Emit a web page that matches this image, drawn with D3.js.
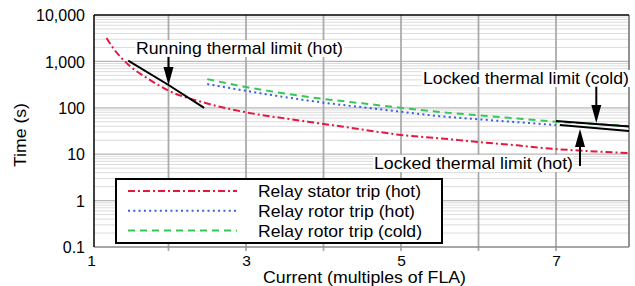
<!DOCTYPE html>
<html><head><meta charset="utf-8">
<script src="https://cdn.jsdelivr.net/npm/d3@7"></script>
<style>html,body{margin:0;padding:0;background:#fff}svg{display:block}text{font-family:"Liberation Sans",Arial,sans-serif;fill:#000}</style>
</head><body>
<svg id="c" width="635" height="286"></svg>
<script>
// ---- data ----
const statorX = [1.2,1.3,1.4,1.5,1.75,2,2.5,3,3.5,4,4.5,5,5.5,6,6.5,7,7.5,7.95];
const statorT = [3190,1800,1150,800,410,235,124,80,59,45,34,26,22,18.3,15.5,12.9,11.5,10.5];
const rotorHotX = [2.5,3,3.5,4,4.5,5,5.5,6,6.5,7];
const rotorHotT = [325,232,170,129,103,82,66,56.5,49,42.5];
const rotorColdX = [2.5,3,3.5,4,4.5,5,5.5,6,6.5,7,7.5,7.95];
const rotorColdT = [415,280,204,155,125,100,81,69,59,50,45,40.5];
const runLimitX = [1.48,2,2.46];
const runLimitT = [1040,310,100];
const lockColdX = [7.0,7.95];
const lockColdT = [52,39.5];
const lockHotX = [7.05,7.95];
const lockHotT = [42.6,31.5];
const xTicks = [1,3,5,7];
const xGrid = [2,3,4,5,6,7];
const yTicks = [0.1,1,10,100,1000,10000];
const yTickLabels = ["0.1","1","10","100","1,000","10,000"];
const legendLabels = ["Relay stator trip (hot)","Relay rotor trip (hot)","Relay rotor trip (cold)"];
const xTitle = "Current (multiples of FLA)";
const yTitle = "Time (s)";
const annRunning = {text:"Running thermal limit (hot)", ax:2, from:1250, to:310};
const annCold = {text:"Locked thermal limit (cold)", ax:7.52, from:285, to:47};
const annHot = {text:"Locked thermal limit (hot)", ax:7.31, from:5.57, to:34.9};

// ---- layout ----
const L=94, R=629, T=15, B=247;
const svg = d3.select("#c");
const x = d3.scaleLinear().domain([1,7]).range([91,556]);
const xMin = x.invert(L), xMax = x.invert(R);
x.domain([xMin,xMax]).range([L,R]);
const y = d3.scaleLog().domain([0.1,10000]).range([B,T]);

svg.append("defs").append("clipPath").attr("id","pc").append("rect")
  .attr("x",L).attr("y",T).attr("width",R-L).attr("height",B-T);

// minor horizontal grid
const minor=[];
for(let d=0.1; d<10000; d*=10){ for(let k=2;k<=9;k++) minor.push(d*k); }
svg.append("g").selectAll("line").data(minor).join("line")
  .attr("x1",L).attr("x2",R).attr("y1",d=>y(d)).attr("y2",d=>y(d))
  .attr("stroke","#dcdcdc").attr("stroke-width",1);
svg.append("g").selectAll("line").data(yTicks.slice(1,-1)).join("line")
  .attr("x1",L).attr("x2",R).attr("y1",d=>y(d)).attr("y2",d=>y(d))
  .attr("stroke","#b8b8b8").attr("stroke-width",1.2);
svg.append("g").selectAll("line").data(xGrid).join("line")
  .attr("x1",d=>x(d)).attr("x2",d=>x(d)).attr("y1",T).attr("y2",B+4)
  .attr("stroke","#ababab").attr("stroke-width",1.8);

// frame
svg.append("line").attr("x1",R).attr("x2",R).attr("y1",T).attr("y2",B).attr("stroke","#6e6e6e").attr("stroke-width",1.5);
svg.append("line").attr("x1",L).attr("x2",R).attr("y1",B).attr("y2",B).attr("stroke","#8a8a8a").attr("stroke-width",1.5);
svg.append("line").attr("x1",L).attr("x2",R).attr("y1",T).attr("y2",T).attr("stroke","#000").attr("stroke-width",1.5);
svg.append("line").attr("x1",L).attr("x2",L).attr("y1",T).attr("y2",B).attr("stroke","#000").attr("stroke-width",1.5);

// axes labels
const xa = d3.axisBottom(x).tickValues(xTicks).tickSize(0).tickFormat(d3.format("d"));
const gx = svg.append("g").attr("transform",`translate(0,${B})`).call(xa);
gx.select(".domain").remove();
gx.selectAll("text").attr("dy",null).attr("y",18.5).style("font-size","15.5px").style("font-family",'"Liberation Sans",Arial,sans-serif');
const ya = d3.axisLeft(y).tickValues(yTicks).tickSize(0).tickFormat((d,i)=>yTickLabels[i]);
const gy = svg.append("g").attr("transform",`translate(${L},0)`).call(ya);
gy.select(".domain").remove();
gy.selectAll("text").attr("x",-9).attr("dy","0.36em").style("font-size","16px").style("font-family",'"Liberation Sans",Arial,sans-serif');

svg.append("text").attr("x",263).attr("y",283).attr("textLength",203).attr("lengthAdjust","spacingAndGlyphs")
  .style("font-size","16.5px").text(xTitle);
svg.append("text").attr("transform","translate(26,167) rotate(-90)").attr("textLength",64).attr("lengthAdjust","spacingAndGlyphs")
  .style("font-size","17px").text(yTitle);

// curves
const pc = svg.append("g").attr("clip-path","url(#pc)");
const line = d3.line().x(d=>x(d[0])).y(d=>y(d[1])).curve(d3.curveMonotoneX);
const zip=(a,b)=>a.map((v,i)=>[v,b[i]]);
const series = [
  {x:statorX,t:statorT,color:"#e5173f",dash:"7,3,2,3"},
  {x:rotorHotX,t:rotorHotT,color:"#3a5ee0",dash:"2,3.3"},
  {x:rotorColdX,t:rotorColdT,color:"#35c858",dash:"7,5"}
];
series.forEach(s=>{
  pc.append("path").attr("d",line(zip(s.x,s.t))).attr("fill","none")
    .attr("stroke",s.color).attr("stroke-width",2).attr("stroke-dasharray",s.dash);
});
const straight = d3.line().x(d=>x(d[0])).y(d=>y(d[1]));
[[runLimitX,runLimitT],[lockColdX,lockColdT],[lockHotX,lockHotT]].forEach(([a,b])=>{
  pc.append("path").attr("d",straight(zip(a,b))).attr("fill","none").attr("stroke","#000").attr("stroke-width",2);
});

// annotation labels with white backgrounds
function label(txt,lx,by,w){
  const g=svg.append("g");
  const t=g.append("text").attr("x",lx).attr("y",by).attr("textLength",w).attr("lengthAdjust","spacingAndGlyphs")
    .style("font-size","17px").text(txt);
  const bb=t.node().getBBox();
  g.insert("rect","text").attr("x",bb.x-1).attr("y",bb.y+1).attr("width",w+2).attr("height",bb.height-2).attr("fill","#fff");
}
label(annRunning.text,136,54,207);
label(annCold.text,423,84,206);
label(annHot.text,374,169,199);

function arrow(a){
  const ax=x(a.ax), y0=y(a.from), y1=y(a.to);
  const dir = y1>y0?1:-1, hl=18, hw=5;
  svg.append("line").attr("x1",ax).attr("x2",ax).attr("y1",y0).attr("y2",y1-dir*hl).attr("stroke","#000").attr("stroke-width",2);
  svg.append("path").attr("d",`M${ax},${y1}L${ax-hw},${y1-dir*hl}L${ax+hw},${y1-dir*hl}Z`).attr("fill","#000");
}
[annRunning,annCold,annHot].forEach(arrow);

// legend
const lg=svg.append("g");
lg.append("rect").attr("x",116).attr("y",179).attr("width",326).attr("height",64).attr("fill","#fff").attr("stroke","#000").attr("stroke-width",2);
const rowsY=[191,210.7,230.5], widths=[163,157,164];
series.forEach((s,i)=>{
  lg.append("line").attr("x1",128).attr("x2",237).attr("y1",rowsY[i]).attr("y2",rowsY[i])
    .attr("stroke",s.color).attr("stroke-width",2).attr("stroke-dasharray",s.dash);
  lg.append("text").attr("x",258).attr("y",rowsY[i]+6).attr("textLength",widths[i]).attr("lengthAdjust","spacingAndGlyphs")
    .style("font-size","17px").text(legendLabels[i]);
});
</script>
</body></html>
